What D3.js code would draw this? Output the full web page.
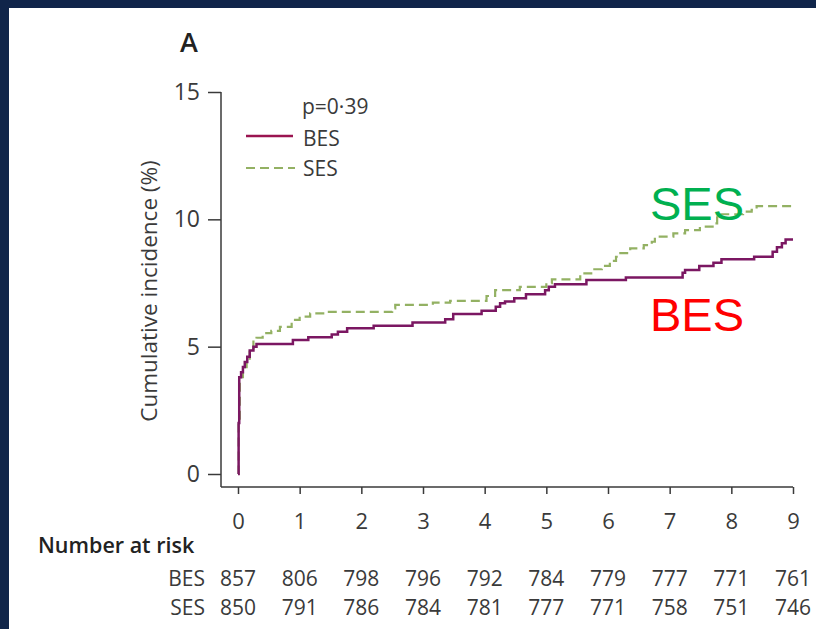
<!DOCTYPE html>
<html>
<head>
<meta charset="utf-8">
<script src="https://cdn.jsdelivr.net/npm/d3@7"></script>
<style>
  body { margin: 0; background: #10254a; }
  svg { display: block; }
  text { font-family: "Open Sans", "Noto Sans", sans-serif; fill: #3a3a3a; }
</style>
</head>
<body>
<div id="chart"></div>
<script>
// Data
const years = [0, 1, 2, 3, 4, 5, 6, 7, 8, 9];
const yTicks = [0, 5, 10, 15];
const besRisk = [857, 806, 798, 796, 792, 784, 779, 777, 771, 761];
const sesRisk = [850, 791, 786, 784, 781, 777, 771, 758, 751, 746];

// step curves: time (years) and cumulative incidence (%) after each step
const besTime = [0, 0.01, 0.02, 0.05, 0.08, 0.11, 0.15, 0.19, 0.25, 0.30, 0.89, 1.14, 1.52, 1.62, 1.77, 2.20, 2.83,
  3.36, 3.49, 3.95, 4.18, 4.25, 4.33, 4.48, 4.67, 4.98, 5.04, 5.14, 5.65, 6.29, 7.21, 7.25, 7.48, 7.71, 7.84,
  8.37, 8.67, 8.74, 8.82, 8.88, 9.0];
const besInc = [0, 2.0, 3.8, 4.0, 4.2, 4.4, 4.6, 4.85, 5.0, 5.1, 5.26, 5.37, 5.48, 5.59, 5.72, 5.82, 5.95,
  6.08, 6.28, 6.41, 6.57, 6.70, 6.77, 6.90, 7.06, 7.22, 7.35, 7.45, 7.62, 7.72, 7.90, 8.01, 8.17, 8.30, 8.43,
  8.53, 8.73, 8.90, 9.06, 9.21, 9.21];

const sesTime = [0, 0.01, 0.03, 0.08, 0.14, 0.19, 0.25, 0.30, 0.40, 0.54, 0.68, 0.87, 1.0, 1.17, 1.40, 2.50, 2.55,
  3.16, 3.44, 4.03, 4.17, 4.57, 5.0, 5.09, 5.55, 5.76, 5.90, 6.03, 6.13, 6.20, 6.36, 6.58, 6.71, 6.76, 7.06,
  7.25, 7.49, 7.76, 7.77, 8.19, 8.33, 8.41, 9.0];
const sesInc = [0, 2.1, 3.8, 4.2, 4.48, 4.87, 5.26, 5.35, 5.53, 5.62, 5.78, 6.05, 6.18, 6.31, 6.37, 6.50, 6.64,
  6.73, 6.80, 6.99, 7.22, 7.35, 7.49, 7.64, 7.88, 8.04, 8.17, 8.37, 8.53, 8.67, 8.86, 8.99, 9.12, 9.32, 9.45,
  9.58, 9.71, 9.84, 10.2, 10.3, 10.37, 10.52, 10.52];

const width = 816;
const height = 629;
const axisX = 221;   // y axis position
const axisY = 487;   // x axis position

const svg = d3.select("#chart")
  .append("svg")
  .attr("width", width)
  .attr("height", height);

// white panel on the dark slide
svg.append("rect")
  .attr("x", 9)
  .attr("y", 8)
  .attr("width", width - 9)
  .attr("height", height - 8)
  .attr("fill", "#ffffff");

const x = d3.scaleLinear().domain([0, 9]).range([238, 793]);
const y = d3.scaleLinear().domain([0, 15]).range([474, 92]);

// panel letter
svg.append("text")
  .attr("x", 180)
  .attr("y", 52)
  .style("font-size", "27px")
  .style("font-weight", 600)
  .style("fill", "#222")
  .text("A");

// y axis
const yAxis = svg.append("g")
  .attr("transform", `translate(${axisX},0)`)
  .call(d3.axisLeft(y).tickValues(yTicks).tickSize(13).tickSizeOuter(0).tickPadding(8));
yAxis.select(".domain").remove();
yAxis.selectAll("line").attr("stroke", "#3a3a3a").attr("stroke-width", 1.5);
yAxis.selectAll("text").style("font-size", "23px").style("font-family", "Open Sans").attr("fill", "#3a3a3a");

svg.append("line")
  .attr("x1", axisX).attr("x2", axisX)
  .attr("y1", y(15)).attr("y2", axisY)
  .attr("stroke", "#3a3a3a").attr("stroke-width", 1.5);

// x axis
const xAxis = svg.append("g")
  .attr("transform", `translate(0,${axisY})`)
  .call(d3.axisBottom(x).tickValues(years).tickSize(7).tickSizeOuter(0).tickPadding(19));
xAxis.select(".domain").remove();
xAxis.selectAll("line").attr("stroke", "#3a3a3a").attr("stroke-width", 1.5);
xAxis.selectAll("text").style("font-size", "22px").style("font-family", "Open Sans").attr("fill", "#3a3a3a");

svg.append("line")
  .attr("x1", axisX).attr("x2", x(9))
  .attr("y1", axisY).attr("y2", axisY)
  .attr("stroke", "#3a3a3a").attr("stroke-width", 1.5);

svg.append("text")
  .attr("transform", `translate(157,${(162 + 420) / 2}) rotate(-90)`)
  .attr("text-anchor", "middle")
  .style("font-size", "22.5px")
  .text("Cumulative incidence (%)");

// curves
const line = d3.line()
  .x(d => x(d[0]))
  .y(d => y(d[1]))
  .curve(d3.curveStepAfter);

svg.append("path")
  .datum(d3.zip(sesTime, sesInc))
  .attr("fill", "none")
  .attr("stroke", "#93b163")
  .attr("stroke-width", 2.2)
  .attr("stroke-dasharray", "9,5")
  .attr("d", line);

svg.append("path")
  .datum(d3.zip(besTime, besInc))
  .attr("fill", "none")
  .attr("stroke", "#7b1762")
  .attr("stroke-width", 2.5)
  .attr("d", line);

// legend
svg.append("text").attr("x", 302).attr("y", 114).style("font-size", "21px").text("p=0·39");
svg.append("line")
  .attr("x1", 246).attr("x2", 293).attr("y1", 136).attr("y2", 136)
  .attr("stroke", "#9a1450").attr("stroke-width", 2.5);
svg.append("text").attr("x", 303).attr("y", 146).style("font-size", "21px").text("BES");
svg.append("line")
  .attr("x1", 246).attr("x2", 295).attr("y1", 168).attr("y2", 168)
  .attr("stroke", "#93b163").attr("stroke-width", 2.2).attr("stroke-dasharray", "9,5");
svg.append("text").attr("x", 303).attr("y", 176).style("font-size", "21px").text("SES");

// big annotations
svg.append("text")
  .attr("x", 650).attr("y", 220)
  .style("font-family", "Liberation Sans, Arial, sans-serif")
  .style("font-size", "47px")
  .style("fill", "#00b050")
  .text("SES");
svg.append("text")
  .attr("x", 650).attr("y", 331)
  .style("font-family", "Liberation Sans, Arial, sans-serif")
  .style("font-size", "47px")
  .style("fill", "#ff0000")
  .text("BES");

// number at risk table
svg.append("text")
  .attr("x", 38).attr("y", 553)
  .style("font-size", "21.5px")
  .style("font-weight", 600)
  .style("fill", "#222")
  .text("Number at risk");

const rows = [
  { label: "BES", values: besRisk, y: 586 },
  { label: "SES", values: sesRisk, y: 615 }
];

rows.forEach(r => {
  svg.append("text")
    .attr("x", 205).attr("y", r.y)
    .attr("text-anchor", "end")
    .style("font-size", "21px")
    .text(r.label);
  svg.selectAll(null)
    .data(r.values)
    .enter()
    .append("text")
    .attr("x", (d, i) => x(years[i]))
    .attr("y", r.y)
    .attr("text-anchor", "middle")
    .style("font-size", "21px")
    .text(d => d);
});
</script>
</body>
</html>
